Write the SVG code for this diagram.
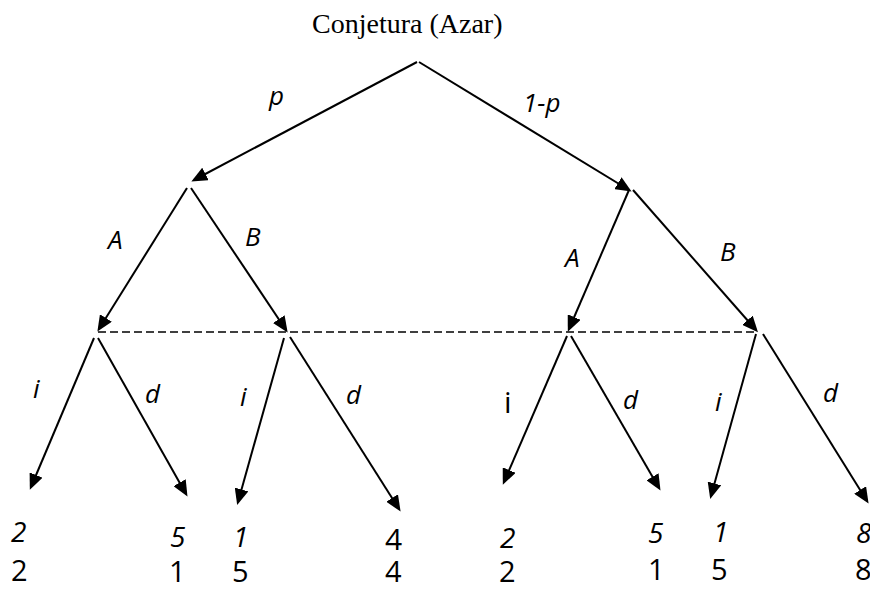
<svg xmlns="http://www.w3.org/2000/svg" width="870" height="590" viewBox="0 0 870 590">
<style>
.e{stroke:#000;stroke-width:2;fill:none;marker-end:url(#ah)}
.dash{stroke:#000;stroke-width:1.3;stroke-dasharray:8 4;fill:none}
.t{font-family:"Liberation Serif","Times New Roman",serif;font-size:28px;fill:#000}
.l{font-family:"Open Sans","Liberation Sans",sans-serif;font-size:26px;font-style:italic;fill:#000}
.n{font-family:"Open Sans","Liberation Sans",sans-serif;font-size:28px;font-style:italic;fill:#000}
.u{font-family:"Open Sans","Liberation Sans",sans-serif;font-size:30px;fill:#000}
.b{font-family:"Open Sans","Liberation Sans",sans-serif;font-size:29px;fill:#000}
</style>
<defs>
<marker id="ah" markerUnits="userSpaceOnUse" markerWidth="16" markerHeight="14" viewBox="0 0 16 14" refX="13" refY="7" orient="auto">
<path d="M0,0 L16,7 L0,14 z" fill="#000"/>
</marker>
</defs>
<rect width="870" height="590" fill="#fff"/>
<g id="root">
<text class="t" x="312" y="33">Conjetura (Azar)</text>
</g>
<g id="connectors">
<line class="e" x1="417" y1="62" x2="194" y2="180"/>
<line class="e" x1="419" y1="62" x2="629" y2="190"/>
<line class="e" x1="187" y1="188" x2="99" y2="329"/>
<line class="e" x1="191" y1="188" x2="286" y2="330"/>
<line class="e" x1="629" y1="190" x2="569" y2="329"/>
<line class="e" x1="633" y1="190" x2="756" y2="330"/>
<line class="dash" x1="98" y1="332" x2="757" y2="332"/>
<line class="e" x1="94" y1="338" x2="31" y2="487"/>
<line class="e" x1="98" y1="338" x2="186" y2="494"/>
<line class="e" x1="284" y1="338" x2="238" y2="502"/>
<line class="e" x1="290" y1="337" x2="399" y2="509"/>
<line class="e" x1="567" y1="336" x2="504" y2="482"/>
<line class="e" x1="571" y1="336" x2="659" y2="488"/>
<line class="e" x1="756" y1="334" x2="711" y2="496"/>
<line class="e" x1="763" y1="334" x2="867" y2="501"/>
</g>
<g id="edge-labels">
<text class="l" x="269" y="105">p</text>
<text class="l" x="523" y="112">1-p</text>
<text class="l" x="108" y="249">A</text>
<text class="l" x="245" y="246">B</text>
<text class="l" x="565" y="267">A</text>
<text class="l" x="720" y="261">B</text>
<text class="l" x="33" y="398">i</text>
<text class="l" x="145" y="403">d</text>
<text class="l" x="240" y="406">i</text>
<text class="l" x="346" y="404">d</text>
<text class="u" x="504" y="413">i</text>
<text class="l" x="623" y="409">d</text>
<text class="l" x="715" y="411">i</text>
<text class="l" x="823" y="402">d</text>
</g>
<g id="leaf1"><text class="n" x="11" y="542">2</text><text class="b" x="11" y="581">2</text></g>
<g id="leaf2"><text class="n" x="170" y="547">5</text><text class="b" x="169" y="582">1</text></g>
<g id="leaf3"><text class="n" x="233" y="547">1</text><text class="b" x="232" y="582">5</text></g>
<g id="leaf4"><text class="u" x="385" y="550">4</text><text class="b" x="385" y="582">4</text></g>
<g id="leaf5"><text class="n" x="500" y="548">2</text><text class="b" x="499" y="582">2</text></g>
<g id="leaf6"><text class="n" x="648" y="543">5</text><text class="b" x="648" y="580">1</text></g>
<g id="leaf7"><text class="n" x="713" y="542">1</text><text class="b" x="711" y="580">5</text></g>
<g id="leaf8"><text class="n" x="856" y="543">8</text><text class="b" x="855" y="580">8</text></g>
</svg>
